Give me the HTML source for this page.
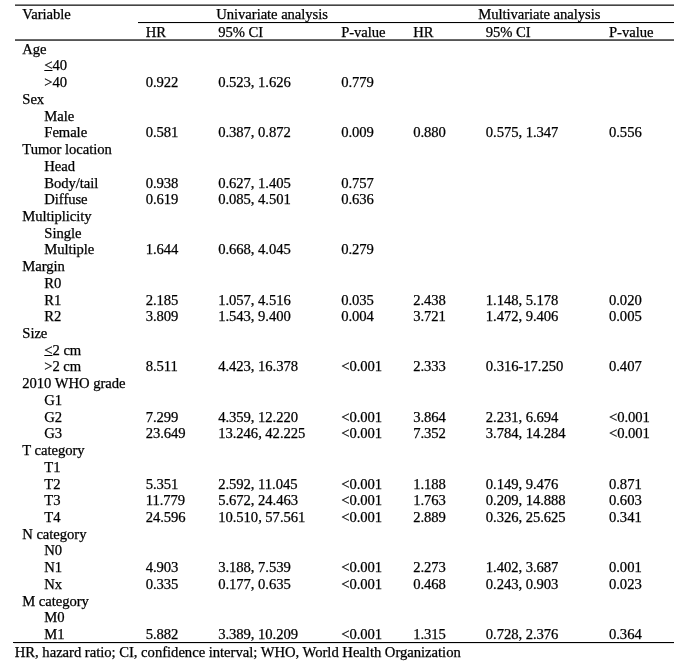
<!DOCTYPE html>
<html lang="en"><head><meta charset="utf-8"><title>Table</title>
<style>
html,body{margin:0;padding:0;background:#fff;}
body{width:689px;height:668px;position:relative;overflow:hidden;font-family:"Liberation Serif","Times New Roman",serif;font-size:14.67px;color:#000;line-height:16.725px;letter-spacing:-0.06px;-webkit-text-stroke:0.25px #000;}
.r{position:absolute;left:0;width:689px;height:16.725px;}
.r span{position:absolute;top:0;white-space:nowrap;}
.ln{position:absolute;background:#000;}
u{text-decoration-thickness:1px;text-underline-offset:0px;}
</style></head><body>

<div class="ln" style="left:15px;top:4px;width:659px;height:1px;background:#8a8a8a"></div><div class="ln" style="left:15px;top:5px;width:659px;height:1px;background:#444"></div>
<div class="ln" style="left:137.7px;top:22px;width:536.3px;height:1px;background:#000"></div><div class="ln" style="left:138px;top:23px;width:536px;height:1px;background:#eee"></div>
<div class="ln" style="left:15px;top:39px;width:659px;height:1px;background:#686868"></div><div class="ln" style="left:15px;top:40px;width:659px;height:1px;background:#555"></div>
<div class="ln" style="left:13.4px;top:642px;width:660.6px;height:1px;background:#000"></div><div class="ln" style="left:14px;top:643px;width:660px;height:1px;background:#e4e4e4"></div>
<div class="r" style="top:5.6px"><span style="left:22.3px">Variable</span><span style="left:216.3px">Univariate analysis</span><span style="left:478.3px">Multivariate analysis</span></div>
<div class="r" style="top:24.4px"><span style="left:145.7px">HR</span><span style="left:218.2px">95% CI</span><span style="left:341.2px">P-value</span><span style="left:413.2px">HR</span><span style="left:485.8px">95% CI</span><span style="left:609.0px">P-value</span></div>
<div class="r" style="top:40.70px"><span style="left:22.3px">Age</span></div>
<div class="r" style="top:57.43px"><span style="left:44.3px"><u>&lt;</u>40</span></div>
<div class="r" style="top:74.15px"><span style="left:44.3px">&gt;40</span><span style="left:145.7px">0.922</span><span style="left:218.2px">0.523, 1.626</span><span style="left:341.2px">0.779</span></div>
<div class="r" style="top:90.88px"><span style="left:22.3px">Sex</span></div>
<div class="r" style="top:107.60px"><span style="left:44.3px">Male</span></div>
<div class="r" style="top:124.33px"><span style="left:44.3px">Female</span><span style="left:145.7px">0.581</span><span style="left:218.2px">0.387, 0.872</span><span style="left:341.2px">0.009</span><span style="left:413.2px">0.880</span><span style="left:485.8px">0.575, 1.347</span><span style="left:609.0px">0.556</span></div>
<div class="r" style="top:141.05px"><span style="left:22.3px">Tumor location</span></div>
<div class="r" style="top:157.78px"><span style="left:44.3px">Head</span></div>
<div class="r" style="top:174.50px"><span style="left:44.3px">Body/tail</span><span style="left:145.7px">0.938</span><span style="left:218.2px">0.627, 1.405</span><span style="left:341.2px">0.757</span></div>
<div class="r" style="top:191.23px"><span style="left:44.3px">Diffuse</span><span style="left:145.7px">0.619</span><span style="left:218.2px">0.085, 4.501</span><span style="left:341.2px">0.636</span></div>
<div class="r" style="top:207.95px"><span style="left:22.3px">Multiplicity</span></div>
<div class="r" style="top:224.68px"><span style="left:44.3px">Single</span></div>
<div class="r" style="top:241.40px"><span style="left:44.3px">Multiple</span><span style="left:145.7px">1.644</span><span style="left:218.2px">0.668, 4.045</span><span style="left:341.2px">0.279</span></div>
<div class="r" style="top:258.12px"><span style="left:22.3px">Margin</span></div>
<div class="r" style="top:274.85px"><span style="left:44.3px">R0</span></div>
<div class="r" style="top:291.58px"><span style="left:44.3px">R1</span><span style="left:145.7px">2.185</span><span style="left:218.2px">1.057, 4.516</span><span style="left:341.2px">0.035</span><span style="left:413.2px">2.438</span><span style="left:485.8px">1.148, 5.178</span><span style="left:609.0px">0.020</span></div>
<div class="r" style="top:308.30px"><span style="left:44.3px">R2</span><span style="left:145.7px">3.809</span><span style="left:218.2px">1.543, 9.400</span><span style="left:341.2px">0.004</span><span style="left:413.2px">3.721</span><span style="left:485.8px">1.472, 9.406</span><span style="left:609.0px">0.005</span></div>
<div class="r" style="top:325.03px"><span style="left:22.3px">Size</span></div>
<div class="r" style="top:341.75px"><span style="left:44.3px"><u>&lt;</u>2 cm</span></div>
<div class="r" style="top:358.48px"><span style="left:44.3px">&gt;2 cm</span><span style="left:145.7px">8.511</span><span style="left:218.2px">4.423, 16.378</span><span style="left:341.2px">&lt;0.001</span><span style="left:413.2px">2.333</span><span style="left:485.8px">0.316-17.250</span><span style="left:609.0px">0.407</span></div>
<div class="r" style="top:375.20px"><span style="left:22.3px">2010 WHO grade</span></div>
<div class="r" style="top:391.93px"><span style="left:44.3px">G1</span></div>
<div class="r" style="top:408.65px"><span style="left:44.3px">G2</span><span style="left:145.7px">7.299</span><span style="left:218.2px">4.359, 12.220</span><span style="left:341.2px">&lt;0.001</span><span style="left:413.2px">3.864</span><span style="left:485.8px">2.231, 6.694</span><span style="left:609.0px">&lt;0.001</span></div>
<div class="r" style="top:425.38px"><span style="left:44.3px">G3</span><span style="left:145.7px">23.649</span><span style="left:218.2px">13.246, 42.225</span><span style="left:341.2px">&lt;0.001</span><span style="left:413.2px">7.352</span><span style="left:485.8px">3.784, 14.284</span><span style="left:609.0px">&lt;0.001</span></div>
<div class="r" style="top:442.10px"><span style="left:22.3px">T category</span></div>
<div class="r" style="top:458.83px"><span style="left:44.3px">T1</span></div>
<div class="r" style="top:475.55px"><span style="left:44.3px">T2</span><span style="left:145.7px">5.351</span><span style="left:218.2px">2.592, 11.045</span><span style="left:341.2px">&lt;0.001</span><span style="left:413.2px">1.188</span><span style="left:485.8px">0.149, 9.476</span><span style="left:609.0px">0.871</span></div>
<div class="r" style="top:492.28px"><span style="left:44.3px">T3</span><span style="left:145.7px">11.779</span><span style="left:218.2px">5.672, 24.463</span><span style="left:341.2px">&lt;0.001</span><span style="left:413.2px">1.763</span><span style="left:485.8px">0.209, 14.888</span><span style="left:609.0px">0.603</span></div>
<div class="r" style="top:509.00px"><span style="left:44.3px">T4</span><span style="left:145.7px">24.596</span><span style="left:218.2px">10.510, 57.561</span><span style="left:341.2px">&lt;0.001</span><span style="left:413.2px">2.889</span><span style="left:485.8px">0.326, 25.625</span><span style="left:609.0px">0.341</span></div>
<div class="r" style="top:525.73px"><span style="left:22.3px">N category</span></div>
<div class="r" style="top:542.45px"><span style="left:44.3px">N0</span></div>
<div class="r" style="top:559.18px"><span style="left:44.3px">N1</span><span style="left:145.7px">4.903</span><span style="left:218.2px">3.188, 7.539</span><span style="left:341.2px">&lt;0.001</span><span style="left:413.2px">2.273</span><span style="left:485.8px">1.402, 3.687</span><span style="left:609.0px">0.001</span></div>
<div class="r" style="top:575.90px"><span style="left:44.3px">Nx</span><span style="left:145.7px">0.335</span><span style="left:218.2px">0.177, 0.635</span><span style="left:341.2px">&lt;0.001</span><span style="left:413.2px">0.468</span><span style="left:485.8px">0.243, 0.903</span><span style="left:609.0px">0.023</span></div>
<div class="r" style="top:592.63px"><span style="left:22.3px">M category</span></div>
<div class="r" style="top:609.35px"><span style="left:44.3px">M0</span></div>
<div class="r" style="top:626.08px"><span style="left:44.3px">M1</span><span style="left:145.7px">5.882</span><span style="left:218.2px">3.389, 10.209</span><span style="left:341.2px">&lt;0.001</span><span style="left:413.2px">1.315</span><span style="left:485.8px">0.728, 2.376</span><span style="left:609.0px">0.364</span></div>
<div class="r" style="top:643.6px;letter-spacing:-0.03px"><span style="left:14.8px">HR, hazard ratio; CI, confidence interval; WHO, World Health Organization</span></div>
</body></html>
